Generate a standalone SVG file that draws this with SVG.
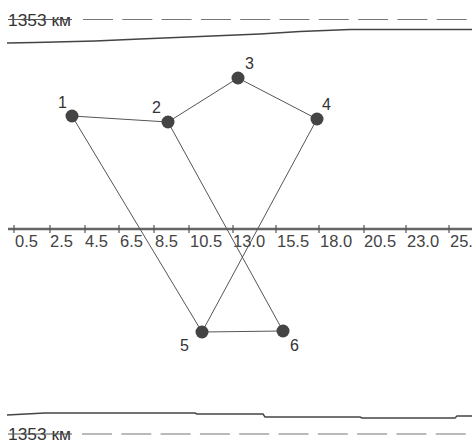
<svg xmlns="http://www.w3.org/2000/svg" width="472" height="446" viewBox="0 0 472 446">
<style>
.t{font-family:"Liberation Sans",Arial,sans-serif;fill:#333;font-size:16px}
.lbl{font-family:"Liberation Sans",Arial,sans-serif;fill:#333;font-size:16px}
.ax{font-family:"Liberation Sans",Arial,sans-serif;fill:#444;font-size:16.5px}
.dash{stroke:#777;stroke-width:1.2;stroke-dasharray:30 9.3;fill:none}
.bound{stroke:#444;stroke-width:1.4;fill:none}
.edge{stroke:#555;stroke-width:1;fill:none}
.node{fill:#444}
.tick{stroke:#555;stroke-width:1.2}
</style>
<rect width="472" height="446" fill="#fff"/>
<g id="boundaries">
<text class="t" x="8" y="26" textLength="63" lengthAdjust="spacingAndGlyphs">1353 км</text>
<line x1="8" y1="19.5" x2="72" y2="19.5" stroke="#555" stroke-width="1.2"/>
<line class="dash" x1="83" y1="19.5" x2="472" y2="19.5"/>
<polyline class="bound" points="7,43 35,42.5 95,41 140,39 200,36.5 260,34 300,31.5 350,29.5 472,29.5"/>
<polyline class="bound" points="7,415 45,413 195,413 197,414 263,414 265,417 360,417 362,418 455,418 457,416 472,416"/>
<text class="t" x="8" y="440" textLength="63" lengthAdjust="spacingAndGlyphs">1353 км</text>
<line x1="8" y1="434" x2="72" y2="434" stroke="#555" stroke-width="1.2"/>
<line class="dash" x1="82" y1="434" x2="472" y2="434"/>
</g>
<g id="axis">
<line x1="8" y1="229" x2="472" y2="229" stroke="#666" stroke-width="2.5"/>
<g class="tick">
<line x1="14" y1="225" x2="14" y2="233"/><line x1="50" y1="225" x2="50" y2="233"/><line x1="85" y1="225" x2="85" y2="233"/><line x1="119" y1="225" x2="119" y2="233"/><line x1="154" y1="225" x2="154" y2="233"/><line x1="189" y1="225" x2="189" y2="233"/><line x1="233" y1="225" x2="233" y2="233"/><line x1="276" y1="225" x2="276" y2="233"/><line x1="319" y1="225" x2="319" y2="233"/><line x1="364" y1="225" x2="364" y2="233"/><line x1="406" y1="225" x2="406" y2="233"/><line x1="449" y1="225" x2="449" y2="233"/>
</g>
<g class="ax">
<text x="15" y="247">0.5</text><text x="50" y="247">2.5</text><text x="85" y="247">4.5</text><text x="120" y="247">6.5</text><text x="155" y="247">8.5</text><text x="190" y="247">10.5</text><text x="233" y="247">13.0</text><text x="277" y="247">15.5</text><text x="320" y="247">18.0</text><text x="364" y="247">20.5</text><text x="407" y="247">23.0</text><text x="450" y="247">25.5</text>
</g>
</g>
<g id="connectors">
<line class="edge" x1="72" y1="116" x2="168" y2="122"/>
<line class="edge" x1="168" y1="122" x2="238" y2="78"/>
<line class="edge" x1="238" y1="78" x2="317" y2="119"/>
<line class="edge" x1="72" y1="116" x2="202" y2="332"/>
<line class="edge" x1="168" y1="122" x2="283" y2="331"/>
<line class="edge" x1="317" y1="119" x2="202" y2="332"/>
<line class="edge" x1="202" y1="332" x2="283" y2="331"/>
</g>
<g id="node1"><circle class="node" cx="72" cy="116" r="6.5"/><text class="lbl" x="58" y="108">1</text></g>
<g id="node2"><circle class="node" cx="168" cy="122" r="6.5"/><text class="lbl" x="152" y="113">2</text></g>
<g id="node3"><circle class="node" cx="238" cy="78" r="6.5"/><text class="lbl" x="245" y="69">3</text></g>
<g id="node4"><circle class="node" cx="317" cy="119" r="6.5"/><text class="lbl" x="322" y="110">4</text></g>
<g id="node5"><circle class="node" cx="202" cy="332" r="6.5"/><text class="lbl" x="180" y="351">5</text></g>
<g id="node6"><circle class="node" cx="283" cy="331" r="6.5"/><text class="lbl" x="290" y="351">6</text></g>
</svg>
